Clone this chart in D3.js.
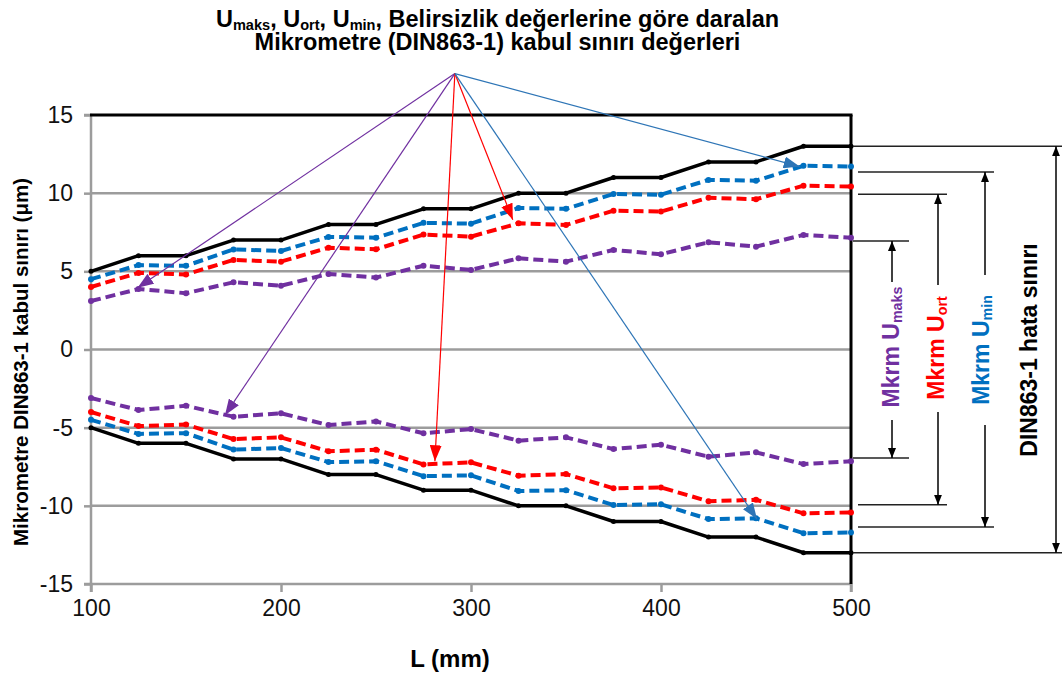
<!DOCTYPE html>
<html><head><meta charset="utf-8">
<script src="https://cdn.jsdelivr.net/npm/d3@7"></script>
<style>body{margin:0;background:#fff}svg{display:block;font-family:"Liberation Sans",Arial,sans-serif}</style>
</head><body>
<svg id="c" width="1062" height="675"></svg>
<script>
const L = [100,125,150,175,200,225,250,275,300,325,350,375,400,425,450,475,500];
const dinUpper   = [5,6,6,7,7,8,8,9,9,10,10,11,11,12,12,13,13];
const dinLower   = [-5,-6,-6,-7,-7,-8,-8,-9,-9,-10,-10,-11,-11,-12,-12,-13,-13];
const uminUpper  = [4.5,5.4,5.35,6.4,6.3,7.2,7.15,8.1,8.05,9.05,9.0,9.95,9.9,10.85,10.8,11.75,11.7];
const uminLower  = [-4.5,-5.4,-5.35,-6.4,-6.3,-7.2,-7.15,-8.1,-8.05,-9.05,-9.0,-9.95,-9.9,-10.85,-10.8,-11.75,-11.7];
const uortUpper  = [4.0,4.9,4.8,5.73,5.62,6.51,6.41,7.35,7.22,8.07,7.97,8.88,8.82,9.71,9.61,10.48,10.42];
const uortLower  = [-4.0,-4.9,-4.8,-5.73,-5.62,-6.51,-6.41,-7.35,-7.22,-8.07,-7.97,-8.88,-8.82,-9.71,-9.61,-10.48,-10.42];
const umaksUpper = [3.1,3.87,3.6,4.3,4.08,4.83,4.6,5.36,5.09,5.83,5.62,6.37,6.09,6.86,6.58,7.33,7.15];
const umaksLower = [-3.1,-3.87,-3.6,-4.3,-4.08,-4.83,-4.6,-5.36,-5.09,-5.83,-5.62,-6.37,-6.09,-6.86,-6.58,-7.33,-7.15];
const xTicks = [100,200,300,400,500];
const yTicks = [-15,-10,-5,0,5,10,15];
// annotation arrows: origin and targets in data units
const arrowOrigin = [291.5, 17.65];
const arrowTargets = [
  {t:[124.5,3.95], c:"#7030A0"},
  {t:[170.5,-4.2], c:"#7030A0"},
  {t:[322,8.3], c:"#FF0000"},
  {t:[281,-7.15], c:"#FF0000"},
  {t:[473,11.7], c:"#2E75B6"},
  {t:[450.5,-10.85], c:"#2E75B6"}
];
// right-side bracket half-widths (data units)
const bracketLevels = [13, 11.35, 9.93, 6.94];

const svg = d3.select("#c");
const x = d3.scaleLinear().domain([100,500]).range([91,851]);
const y = d3.scaleLinear().domain([-15,15]).range([584,115]);

const gray = "#9c9c9c";
// grid
svg.append("g").selectAll("line").data(yTicks.filter(d=>d>-15 && d<15)).join("line")
  .attr("x1",x(100)).attr("x2",x(500)).attr("y1",d=>y(d)).attr("y2",d=>y(d))
  .attr("stroke",gray).attr("stroke-width",2.5);

// axes
const yAxis = d3.axisLeft(y).tickValues(yTicks).tickSize(7).tickPadding(11).tickFormat(d=>String(d));
const gy = svg.append("g").attr("transform",`translate(${x(100)},0)`).call(yAxis);
const xAxis = d3.axisBottom(x).tickValues(xTicks).tickSize(8).tickPadding(8).tickFormat(d=>String(d));
const gx = svg.append("g").attr("transform",`translate(0,${y(-15)})`).call(xAxis);
[gy,gx].forEach(g=>{
  g.select(".domain").attr("stroke",gray).attr("stroke-width",2.5);
  g.selectAll(".tick line").attr("stroke",gray).attr("stroke-width",2.5);
  g.selectAll(".tick text").attr("fill","#111").style("font-size","23px").style("font-family","'Liberation Sans',Arial,sans-serif");
});
gy.select(".domain").attr("d",`M-7,${y(15)}H0V${y(-15)}H-7`);
gx.select(".domain").attr("d",`M${x(100)},8V0H${x(500)}V8`);
// top and right border
svg.append("line").attr("x1",x(100)-1).attr("x2",x(500)+1.5).attr("y1",y(15)).attr("y2",y(15)).attr("stroke","#000").attr("stroke-width",3);
svg.append("line").attr("x1",x(500)).attr("x2",x(500)).attr("y1",y(15)).attr("y2",y(-15)).attr("stroke","#000").attr("stroke-width",3);

// series
const line = d3.line().x((d,i)=>x(L[i])).y(d=>y(d));
const series = [
  {d:umaksUpper,c:"#7030A0",dash:true},{d:umaksLower,c:"#7030A0",dash:true},
  {d:uortUpper,c:"#FF0000",dash:true},{d:uortLower,c:"#FF0000",dash:true},
  {d:uminUpper,c:"#0070C0",dash:true},{d:uminLower,c:"#0070C0",dash:true},
  {d:dinUpper,c:"#000",dash:false},{d:dinLower,c:"#000",dash:false}
];
series.forEach(s=>{
  svg.append("path").attr("d",line(s.d)).attr("fill","none").attr("stroke",s.c)
    .attr("stroke-width",s.dash?4:3.5).attr("stroke-dasharray",s.dash?"10,5":null)
    .attr("stroke-linejoin","round");
  svg.append("g").selectAll("circle").data(s.d).join("circle")
    .attr("cx",(d,i)=>x(L[i])).attr("cy",d=>y(d)).attr("r",s.dash?3:2.5).attr("fill",s.c);
});

// arrow markers
const defs = svg.append("defs");
function headMarker(id,color,w,h){
  defs.append("marker").attr("id",id).attr("viewBox",`0 0 ${w} ${h}`).attr("refX",w).attr("refY",h/2)
    .attr("markerWidth",w).attr("markerHeight",h).attr("markerUnits","userSpaceOnUse").attr("orient","auto-start-reverse")
    .append("path").attr("d",`M0,0L${w},${h/2}L0,${h}Z`).attr("fill",color);
}
headMarker("hp","#7030A0",16,12);
headMarker("hr","#FF0000",16,12);
headMarker("hb","#2E75B6",16,12);
headMarker("hk","#000",10,8);
const mk = {"#7030A0":"hp","#FF0000":"hr","#2E75B6":"hb"};
arrowTargets.forEach(a=>{
  svg.append("line").attr("x1",x(arrowOrigin[0])).attr("y1",y(arrowOrigin[1]))
    .attr("x2",x(a.t[0])).attr("y2",y(a.t[1])).attr("stroke",a.c).attr("stroke-width",1.2)
    .attr("marker-end",`url(#${mk[a.c]})`);
});

// right brackets
const bracketSpec = [
  {v:bracketLevels[0], x1:853, x2:1062, ax:1056, gap:null},
  {v:bracketLevels[1], x1:858, x2:994, ax:985, gap:[275,425]},
  {v:bracketLevels[2], x1:858, x2:947, ax:938, gap:[285,412]},
  {v:bracketLevels[3], x1:853, x2:909, ax:892, gap:[282,420]}
];
bracketSpec.forEach(b=>{
  [b.v,-b.v].forEach(v=>{
    svg.append("line").attr("x1",b.x1).attr("x2",b.x2).attr("y1",y(v)).attr("y2",y(v)).attr("stroke","#222").attr("stroke-width",1.5);
  });
  const top=y(b.v), bot=y(-b.v);
  if(!b.gap){
    svg.append("line").attr("x1",b.ax).attr("x2",b.ax).attr("y1",top).attr("y2",bot).attr("stroke","#000").attr("stroke-width",1.5)
      .attr("marker-start","url(#hk)").attr("marker-end","url(#hk)");
  } else {
    svg.append("line").attr("x1",b.ax).attr("x2",b.ax).attr("y1",b.gap[0]).attr("y2",top).attr("stroke","#000").attr("stroke-width",1.5).attr("marker-end","url(#hk)");
    svg.append("line").attr("x1",b.ax).attr("x2",b.ax).attr("y1",b.gap[1]).attr("y2",bot).attr("stroke","#000").attr("stroke-width",1.5).attr("marker-end","url(#hk)");
  }
});

// text helpers
function subText(g, parts, size){
  parts.forEach(p=>{
    const ts = g.append("tspan").text(p.t);
    if(p.sub) ts.style("font-size",(size*0.62)+"px").attr("baseline-shift","-22%");
  });
}
const bold = "bold";
// title
const t1 = svg.append("text").attr("x",497.5).attr("y",26.5).attr("text-anchor","middle").attr("font-weight",bold).style("font-size","23.5px");
subText(t1,[{t:"U"},{t:"maks",sub:1},{t:", U"},{t:"ort",sub:1},{t:", U"},{t:"min",sub:1},{t:", Belirsizlik değerlerine göre daralan"}],23.5);
svg.append("text").attr("x",497.5).attr("y",49.5).attr("text-anchor","middle").attr("font-weight",bold).style("font-size","23.5px")
  .text("Mikrometre (DIN863-1) kabul sınırı değerleri");
// axis titles
svg.append("text").attr("transform","translate(28,362) rotate(-90)").attr("text-anchor","middle").attr("font-weight",bold).style("font-size","20.5px")
  .text("Mikrometre DIN863-1 kabul sınırı (μm)");
svg.append("text").attr("x",450).attr("y",667).attr("text-anchor","middle").attr("font-weight",bold).style("font-size","24px").text("L (mm)");
// bracket labels
function vlabel(cx,cy,parts,color){
  const t = svg.append("text").attr("transform",`translate(${cx},${cy}) rotate(-90)`).attr("text-anchor","middle")
    .attr("font-weight",bold).style("font-size","23px").attr("fill",color);
  subText(t,parts,23);
}
vlabel(1036.5,350,[{t:"DIN863-1 hata sınırı"}],"#000");
vlabel(988.5,350,[{t:"Mkrm U"},{t:"min",sub:1}],"#0070C0");
vlabel(943.5,348,[{t:"Mkrm U"},{t:"ort",sub:1}],"#FF0000");
vlabel(898.5,347,[{t:"Mkrm U"},{t:"maks",sub:1}],"#7030A0");
</script>
</body></html>
